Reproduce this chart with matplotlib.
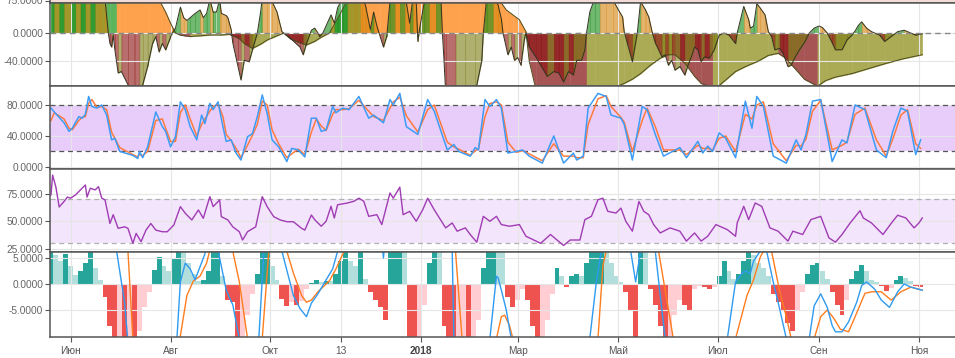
import numpy as np
import pandas as pd
import matplotlib
matplotlib.use('Agg')
import matplotlib.pyplot as plt
from matplotlib.ticker import FixedLocator, FuncFormatter

plt.rcParams['font.family'] = ['Liberation Sans', 'DejaVu Sans']

start = pd.Timestamp('2017-05-20')  # day 0 of every "*_day" list

# ---- panel 1: fast / slow momentum (days since start, value)
fast_day = [0, 2, 5, 8, 12, 15, 18, 21, 24, 27, 30, 33, 35, 36, 37, 38, 39, 41, 43, 47,
            51, 54, 56, 59, 62, 64, 66, 68, 70, 72, 74, 76, 79, 81, 83, 85, 88, 91, 93, 95,
            97, 99, 101, 103, 104, 107, 108, 110, 111, 114, 116, 118, 121, 123, 126, 128, 129, 132, 135, 138,
            141, 142, 145, 152, 154, 156, 159, 161, 163, 164, 166, 171, 173, 175, 178, 181, 186, 190, 192, 195,
            197, 199, 201, 203, 205, 207, 210, 213, 216, 219, 221, 223, 224, 225, 228, 231, 235, 238, 239, 240,
            241, 247, 253, 259, 263, 264, 266, 270, 273, 275, 276, 279, 281, 283, 285, 287, 289, 290, 292, 296,
            299, 303, 307, 310, 313, 316, 319, 321, 324, 326, 327, 329, 332, 335, 339, 343, 346, 349, 350, 352,
            355, 358, 360, 363, 365, 367, 369, 373, 375, 377, 379, 381, 384, 387, 389, 391, 393, 395, 397, 399,
            402, 405, 408, 411, 414, 418, 419, 423, 426, 427, 429, 431, 433, 436, 438, 440, 442, 445, 447, 450,
            452, 454, 457, 460, 463, 466, 469, 471, 474, 477, 479, 483, 486, 489, 491, 493, 495, 498, 501, 503,
            506, 509, 513, 517, 521, 525, 528, 532]
fast_val = [55, 62, 50, 66, 55, 60, 52, 64, 58, 66, 56, 48, 0, -15, -20, -3, -24, -57, -55, -74,
            -85, -90, -74, -48, -15, -5, -27, -15, -24, -12, 0, 7, 37, 22, 18, 22, 28, 33, 22, 28,
            48, 30, 30, 48, 28, 25, 22, 5, -14, -46, -67, -39, -41, -24, 0, 30, 50, 48, 45, 30,
            2, 0, -5, -20, -31, -15, 4, 7, 0, -5, 0, 26, 14, 36, 50, 55, 52, 48, 40, 5,
            30, 10, -5, -20, -5, 45, 55, 48, 58, 14, 50, 45, -12, 5, 45, 55, 50, 55, 0, -40,
            -85, -90, -88, -86, -40, 0, 50, 55, 40, 20, 0, -31, -20, -39, -35, -46, -10, 0, -20, -34,
            -46, -62, -55, -57, -70, -55, -60, -39, -39, -24, 0, 30, 50, 60, 55, 48, 35, 23, 2, -15,
            -41, 0, 45, 33, 23, 2, -14, -34, -31, -46, -39, -53, -48, -60, -46, -34, -20, -24, -41, -34,
            -36, -24, -3, 0, -3, -15, 0, 38, 19, 7, 10, 42, 36, 26, 2, -5, -24, -22, -29, -48,
            -46, -36, -24, -14, 0, 7, 10, 8, 0, -14, -24, -24, -10, -3, 3, 11, 16, 7, 2, 0,
            -3, -12, -5, 2, 4, 0, -3, -1]
slow_day = [0, 12, 24, 33, 36, 40, 45, 51, 60, 67, 70, 73, 76, 79, 85, 91, 97, 103, 109, 115,
            118, 123, 128, 132, 137, 142, 146, 152, 156, 161, 165, 170, 176, 184, 189, 201, 213, 225, 238, 250,
            262, 271, 275, 278, 282, 286, 290, 292, 296, 305, 317, 327, 332, 338, 344, 350, 355, 360, 366, 372,
            377, 381, 387, 393, 397, 404, 408, 413, 418, 424, 432, 438, 444, 448, 454, 460, 468, 473, 479, 489,
            499, 509, 520, 532]
slow_val = [50, 55, 60, 64, 66, 70, 66, 60, 52, 43, 30, 14, 0, -3, -5, -4, -3, -3, -2, -8,
            -15, -22, -16, -10, -5, 0, -8, -14, -17, -12, -6, 0, 25, 60, 70, 68, 66, 64, 62, 60,
            58, 52, 43, 33, 26, 19, 2, -40, -80, -84, -88, -90, -88, -84, -78, -72, -66, -58, -46, -36,
            -31, -31, -43, -62, -72, -78, -75, -65, -55, -48, -40, -32, -29, -35, -50, -66, -76, -68, -63, -58,
            -51, -44, -37, -31]

# ---- panel 2: stochastic %K / %D
stoch_day = [0, 2, 8, 11, 13, 17, 19, 21, 23, 25, 28, 31, 34, 37, 39, 42, 50, 53, 54, 56,
             59, 64, 68, 70, 73, 76, 79, 82, 85, 89, 92, 94, 97, 99, 102, 105, 107, 110, 113, 116,
             120, 123, 126, 129, 132, 135, 139, 144, 147, 151, 155, 159, 162, 165, 168, 172, 174, 178, 182, 188,
             194, 197, 203, 207, 209, 213, 217, 224, 230, 234, 242, 246, 249, 256, 259, 261, 265, 268, 272, 275,
             279, 284, 288, 292, 300, 307, 313, 319, 321, 325, 328, 334, 339, 342, 348, 350, 355, 361, 364, 369,
             374, 384, 388, 395, 398, 401, 404, 408, 412, 418, 424, 428, 431, 435, 441, 449, 455, 458, 461, 465,
             470, 477, 483, 486, 491, 497, 504, 510, 514, 519, 523, 528, 531]
stoch_k = [76, 71, 57, 46, 50, 65, 63, 68, 91, 78, 76, 80, 67, 35, 37, 20, 15, 11, 20, 12,
           26, 71, 52, 46, 26, 39, 84, 74, 52, 35, 67, 56, 82, 74, 84, 52, 33, 35, 18, 9,
           39, 43, 65, 93, 69, 35, 26, 7, 24, 22, 13, 63, 63, 46, 48, 78, 70, 76, 74, 91,
           63, 67, 57, 87, 80, 95, 52, 42, 87, 72, 22, 29, 20, 14, 25, 22, 87, 78, 87, 76,
           18, 20, 22, 14, 5, 40, 5, 18, 9, 14, 76, 95, 91, 67, 63, 55, 9, 78, 74, 42,
           14, 25, 12, 33, 18, 27, 20, 44, 37, 12, 85, 50, 91, 78, 14, 5, 35, 22, 42, 85,
           87, 7, 35, 31, 80, 74, 22, 12, 46, 76, 72, 16, 35]
stoch_d = [60, 70, 62, 50, 48, 60, 64, 65, 82, 87, 77, 78, 74, 45, 37, 25, 16, 13, 16, 15,
           20, 60, 62, 50, 33, 33, 70, 80, 62, 40, 55, 62, 72, 78, 81, 65, 42, 34, 24, 12,
           28, 41, 55, 85, 80, 48, 30, 12, 17, 23, 16, 45, 62, 53, 47, 68, 74, 74, 75, 86,
           72, 65, 60, 76, 84, 90, 66, 45, 74, 80, 32, 26, 23, 15, 21, 23, 65, 82, 84, 80,
           32, 19, 21, 17, 8, 30, 14, 14, 12, 12, 55, 88, 92, 78, 64, 58, 20, 60, 76, 52,
           22, 22, 16, 28, 24, 24, 22, 37, 40, 20, 68, 62, 80, 84, 30, 8, 28, 27, 36, 72,
           86, 22, 28, 32, 68, 76, 35, 14, 36, 67, 74, 30, 24]

# ---- panel 3: RSI
rsi_day = [0, 1, 3, 5, 8, 10, 12, 15, 18, 21, 22, 24, 27, 29, 31, 33, 36, 38, 41, 45,
           47, 50, 52, 55, 58, 61, 64, 68, 71, 75, 79, 82, 86, 90, 93, 97, 99, 103, 104, 108,
           111, 115, 117, 120, 125, 129, 132, 136, 140, 144, 148, 153, 155, 159, 161, 165, 168, 171, 173, 175,
           181, 185, 188, 191, 194, 199, 202, 207, 209, 213, 215, 219, 223, 227, 230, 234, 241, 245, 248, 253,
           256, 260, 264, 268, 272, 275, 280, 286, 290, 299, 305, 313, 317, 323, 326, 330, 334, 337, 340, 345,
           348, 351, 355, 359, 362, 365, 368, 372, 378, 384, 388, 393, 397, 401, 406, 413, 418, 419, 423, 426,
           430, 434, 439, 444, 450, 453, 459, 464, 470, 475, 479, 483, 488, 494, 496, 501, 508, 514, 517, 522,
           527, 530, 532]
rsi_val = [74, 92, 81, 63, 68, 72, 71, 74, 78.5, 83, 72, 80, 78.5, 81.5, 71, 69.4, 48, 56, 43.6, 45,
           43.6, 30, 39, 31.5, 42, 48, 42, 40.5, 40.5, 46.6, 63.3, 57.3, 51.2, 60.3, 52.7, 72.4, 63.3, 69.4, 54.2, 51.2,
           45, 40.5, 33, 40.5, 45, 72.4, 63.3, 54.2, 51.2, 49.6, 49.6, 43.6, 42, 55.7, 51.5, 45.5, 50, 63.6, 53, 65,
           66.6, 68.2, 71, 68.2, 54.5, 56, 47, 75.7, 71, 81, 56, 59, 50, 60.5, 71, 60.5, 44, 48.5, 41, 44,
           38, 31, 54.5, 50, 54.5, 47, 45.5, 47, 36.4, 30, 38, 28, 33, 33, 51.5, 54.5, 69.6, 71, 59, 57.5,
           62, 50, 41, 68, 59, 56, 47, 39.4, 44, 41, 32, 39.4, 32, 36.4, 47, 42.4, 36.4, 48.5, 63.6, 51.5,
           66.6, 63.6, 44, 41, 32, 41, 38, 51.5, 54.5, 35, 31, 38, 48.5, 59.6, 53, 48.5, 38, 50, 55.5, 53,
           44, 48.5, 53]

# ---- panel 4: MACD (histogram every 3 days from day 0)
hist_step = 3
macd_hist = [6.5, 5.5, 4.5, 5.8, 3.5, 1.7, 2.5, 4.0, 7.0, 3.0,
             0.8, -2.5, -8, -12, -11, -12, -11, -12, -9, -4.5,
             -1.5, 2.7, 5.2, 3.5, 2.5, 5.0, 7.0, 6.2, 4.0, 2.0,
             0.5, 0.8, 2.5, 7, 7.5, 1.5, -3, -3.5, -11, -10.5,
             -6, -2, 2, 7, 7.5, 3.5, 0.8, -2.9, -4.2, -3.5,
             -4, -3.2, -1.0, 0.2, 0.8, 0.4, 0.6, 0.5, 2, 4.5,
             7, 4.5, 3.5, 7, 1, -1.5, -3, -4.5, -6.9, 7,
             7.5, 8, 6.5, -11, -12, -10.5, -4, 4, 7.5, 6.5,
             -8, -12, -13, -12, -11.5, -12, -10.5, -7, 3, 7,
             8, 7, 6.2, -2.5, -4.5, -3, -1, -3, -8, -12,
             -11, -7, -2, 3, 1.5, -0.5, 1.5, 2, 1.5, 4,
             6.5, 7.5, 8, 6.5, 4, 1.5, 0.3, -1.5, -5, -11,
             7, 6.5, -1, -4, -8, -12, -10.8, -6, -3, -4,
             -5, -1, -0.3, -0.6, -1, -0.5, 1.5, 4.5, 2.5, 1,
             2, 4.5, 7, 5.5, 4, 3, 1.5, -2, -3.5, -5,
             -7.5, -9, -5, -1.5, 2, 3.6, 4, 2.5, 1, -1.5,
             -4, -6, -3, 1, 2.5, 3.6, 2.5, 0.8, 0.3, -0.3,
             -1.4, -0.8, 0.8, 1.5, 1.2, 0.5, -0.3, -0.6]
macd_day = [0, 37, 40, 45, 48, 74, 77, 79, 82, 85, 88, 91, 94, 97, 100, 102, 107, 111, 115, 118,
            124, 127, 130, 132, 138, 141, 148, 152, 156, 159, 163, 168, 172, 175, 178, 200, 203, 206, 242, 245,
            246, 249, 265, 268, 272, 273, 275, 278, 281, 284, 326, 329, 333, 336, 339, 352, 354, 357, 360, 363,
            366, 369, 375, 378, 411, 413, 418, 422, 424, 427, 429, 433, 435, 437, 441, 444, 446, 449, 451, 461,
            463, 466, 470, 474, 477, 479, 483, 487, 492, 495, 498, 503, 507, 512, 517, 521, 525, 532]
macd_val = [15, 15, 6.5, -3.7, -15, -15, -10, 0.4, 4, 2.9, 0.8, 3.3, 5.8, 15, 15, 6.5, -1.2, -4, -10.5, -15,
            -15, -10, 6.5, 15, 15, 6.3, -2.2, -4.7, -6.3, -3.7, -1.9, 0.8, 2.9, 6.3, 15, 15, 5, 15, 15, 6.3,
            -10.5, -15, -15, -10.5, 1.5, 1.2, -1.2, -5, -10.5, -15, -15, -10.5, 0.4, 6.3, 15, 15, 6.3, 0.4, 6.3, 15,
            15, 6.3, -10.5, -15, -15, -10.5, 0.4, 2.1, 2.5, 2.0, 4.4, 6.3, 9, 6.3, 0.4, -3.5, -6.3, -10.5, -15, -15,
            -10.5, -4.2, -1.9, -4.5, -8, -9.2, -9.2, -7.3, -3.5, -0.3, 0.4, -1, -3.1, -4.5, -1.5, 0, -0.6, -1.2]
signal_day = [0, 45, 47, 50, 53, 76, 79, 83, 87, 91, 95, 97, 100, 109, 111, 115, 120, 122, 126, 129,
              133, 136, 141, 144, 148, 153, 156, 159, 163, 170, 174, 179, 181, 244, 247, 251, 253, 269, 272, 275,
              277, 280, 282, 285, 331, 334, 337, 339, 341, 369, 371, 380, 383, 415, 418, 425, 429, 433, 435, 437,
              440, 445, 449, 452, 454, 464, 466, 470, 474, 478, 482, 487, 491, 497, 501, 507, 513, 519, 525, 532]
signal_val = [15, 15, 6.3, -10.5, -15, -15, -10, -2.2, 0.6, 1.5, 4, 6.5, 15, 15, 6.3, 0.4, -10.5, -15, -15, -10.5,
              6.3, 15, 15, 6.3, 2.1, -2.2, -3.5, -3.1, -1.5, 0.6, 2.9, 6.3, 15, 15, 6.3, -10.5, -15, -15, -10.5, -6.3,
              -6, -8, -10.5, -15, -15, -10.5, 3.5, 6.3, 15, 15, 6.3, -10.5, -15, -15, -10.5, -2.2, 0.8, 5.1, 6.3, 9,
              6.3, -1.5, -6.3, -10.5, -15, -15, -10.5, -6.3, -5, -6.6, -8.7, -9.2, -6.3, -1.8, -1.5, -1.5, -3.1, -1.5, -0.6, -1.2]

tick_dates = ['2017-06-01', '2017-08-01', '2017-10-01', '2017-11-13', '2018-01-01',
              '2018-03-01', '2018-05-01', '2018-07-01', '2018-09-01', '2018-11-01']
tick_labels = ['Июн', 'Авг', 'Окт', '13', '2018', 'Мар', 'Май', 'Июл', 'Сен', 'Ноя']
tick_days = [(pd.Timestamp(d) - start).days for d in tick_dates]

GRID = '#e6e6e6'
EDGE = '#555555'


def style(ax, ylim, yticks):
    ax.set_xlim(-0.6, 552)
    ax.set_ylim(*ylim)
    ax.set_yticks(yticks)
    ax.yaxis.set_major_formatter(FuncFormatter(lambda v, p: '%.4f' % v))
    ax.xaxis.set_major_locator(FixedLocator(tick_days))
    ax.set_axisbelow('line')
    ax.grid(True, color=GRID, lw=0.8)
    for s in ('top', 'bottom', 'left'):
        ax.spines[s].set_color(EDGE)
        ax.spines[s].set_linewidth(1.1)
    ax.spines['right'].set_visible(False)
    ax.tick_params(axis='y', length=3.5, width=0.8, color=EDGE, labelsize=7.3,
                   labelcolor='#666666', pad=1.5)
    ax.tick_params(axis='x', labelbottom=False, length=0)


def seg_fill(ax, days, vals, pal, alpha):
    for i in range(len(days) - 1):
        v0, v1 = vals[i], vals[i + 1]
        up = v1 >= v0
        if v0 + v1 >= 0:
            c = pal[0] if up else pal[1]
        else:
            c = pal[2] if up else pal[3]
        ax.fill_between(days[i:i + 2], vals[i:i + 2], 0, color=c, alpha=alpha,
                        lw=0.3, edgecolor=c)


fig = plt.figure(figsize=(9.55, 3.58), dpi=100)
L, W = 50 / 955, 905 / 955


def pane(top, bottom):
    return fig.add_axes([L, 1 - bottom / 358, W, (bottom - top) / 358])


# thin strip of the pane above (cut off)
ax0 = pane(-11, 3)
ax0.set_facecolor('#f3dcd8')
style(ax0, (70, 98), [75])
ax0.grid(False)

# panel 1
ax1 = pane(3, 86)
style(ax1, (-75.7, 42.9), [-40, 0])
seg_fill(ax1, slow_day, slow_val, ['#5cb55c', '#ffa24d', '#abab55', '#a65454'], 1.0)
seg_fill(ax1, fast_day, fast_val, ['#138a13', '#d4820a', '#7a7a10', '#8b0d0d'], 0.6)
ax1.plot(slow_day, slow_val, color='#4d4d1f', lw=0.7)
ax1.plot(fast_day, fast_val, color='#333322', lw=0.7)
ax1.axhline(0, color='#888888', lw=1.0, ls=(0, (4, 3)))

# panel 2
ax2 = pane(86, 169)
style(ax2, (-2.6, 104.5), [0, 40, 80])
ax2.axhspan(20, 80, color='#e8cdfb', lw=0)
for lv in (20, 80):
    ax2.axhline(lv, color='#555555', lw=0.9, ls=(0, (4, 3)))
ax2.plot(stoch_day, stoch_d, color='#ff7a3d', lw=1.1)
ax2.plot(stoch_day, stoch_k, color='#3d9cf5', lw=1.1)

# panel 3
ax3 = pane(169, 252)
style(ax3, (22.1, 97.5), [25, 50, 75])
ax3.axhspan(30, 70, color='#f3e5fc', lw=0)
for lv in (30, 70):
    ax3.axhline(lv, color='#b0b0b0', lw=0.9, ls=(0, (4, 3)))
ax3.plot(rsi_day, rsi_val, color='#a03cb4', lw=1.0)

# panel 4
ax4 = pane(252, 337)
style(ax4, (-10.2, 6.15), [-5, 0, 5])
hist_day = np.arange(len(macd_hist)) * hist_step
hist = np.array(macd_hist)
prev = np.concatenate([[hist[0] - 1], hist[:-1]])
cols = np.where(hist >= 0,
                np.where(hist >= prev, '#26a69a', '#b2dfdb'),
                np.where(hist < prev, '#ef5350', '#ffcdd2'))
ax4.bar(hist_day, hist, width=hist_step, color=cols, lw=0)
ax4.plot(signal_day, signal_val, color='#ff7d1f', lw=1.0)
ax4.plot(macd_day, macd_val, color='#2f9bf0', lw=1.0)
ax4.tick_params(axis='x', labelbottom=True, length=3.5, width=0.8, color=EDGE,
                labelsize=7.3, labelcolor='#555555', pad=3)
ax4.set_xticklabels(tick_labels)
for t in ax4.get_xticklabels():
    if t.get_text() == '2018':
        t.set_fontweight('bold')
        t.set_color('#444444')

fig.savefig('out.png', dpi=100, facecolor='white')
